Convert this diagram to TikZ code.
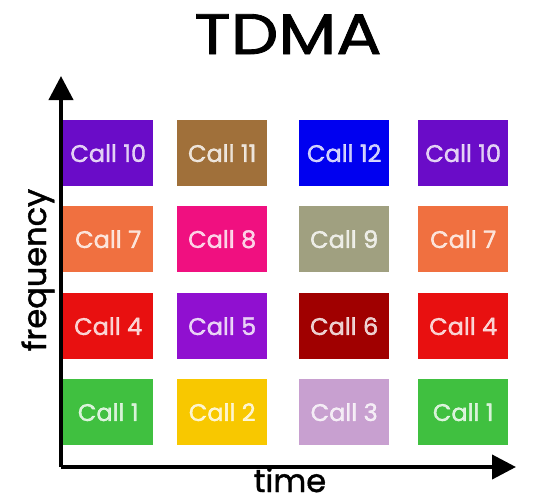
\documentclass[tikz,border=0pt]{standalone}
\usepackage{fontspec}
\setmainfont{Poppins}
\newfontfamily\mediumfont{Poppins}[FakeBold=1.4]
\usetikzlibrary{arrows.meta}
\definecolor{cTen}{RGB}{106,12,200}
\definecolor{cEleven}{RGB}{160,112,58}
\definecolor{cTwelve}{RGB}{0,0,240}
\definecolor{cSeven}{RGB}{240,112,64}
\definecolor{cEight}{RGB}{240,16,128}
\definecolor{cNine}{RGB}{160,160,128}
\definecolor{cFour}{RGB}{232,16,16}
\definecolor{cFive}{RGB}{144,16,208}
\definecolor{cSix}{RGB}{160,0,0}
\definecolor{cOne}{RGB}{64,192,64}
\definecolor{cTwo}{RGB}{248,200,0}
\definecolor{cThree}{RGB}{200,160,208}
\tikzset{
  slot/.style={fill=#1, minimum width=90pt, minimum height=66pt, inner sep=0pt,
    text=white, text opacity=0.8, font=\mediumfont\fontsize{24}{24}\selectfont, anchor=north west},
  axis/.style={line width=4pt, -{Triangle[length=24pt,width=24pt]}},
  axislabel/.style={font=\mediumfont\fontsize{32}{32}\selectfont, inner sep=0pt},
}
\begin{document}
\begin{tikzpicture}[x=1pt,y=-1pt]
  \useasboundingbox[fill=white] (0,0) rectangle (548,503);
  % title
  \node[anchor=base, inner sep=0pt] (title) at (288,54) {\mediumfont\fontsize{57}{57}\selectfont\scalebox{1.18}[1]{TDMA}};
  % axes
  \coordinate (origin) at (61,467);
  \coordinate (ftop) at (61,76);
  \coordinate (tend) at (516,467);
  \draw[axis] (origin) -- (ftop);
  \draw[axis] (origin) -- (tend);
  \node[axislabel, rotate=90, anchor=base] (freq) at (46,270) {frequency};
  \node[axislabel, anchor=base] (time) at (290,492) {time};
  % slots: row 1
  \node[slot=cTen]    (s10a) at (63,120)  {Call 10};
  \node[slot=cEleven] (s11)  at (177,120) {Call 11};
  \node[slot=cTwelve] (s12)  at (299,120) {Call 12};
  \node[slot=cTen]    (s10b) at (418,120) {Call 10};
  % row 2
  \node[slot=cSeven]  (s7a)  at (63,206)  {Call 7};
  \node[slot=cEight]  (s8)   at (177,206) {Call 8};
  \node[slot=cNine]   (s9)   at (299,206) {Call 9};
  \node[slot=cSeven]  (s7b)  at (418,206) {Call 7};
  % row 3
  \node[slot=cFour]   (s4a)  at (63,293)  {Call 4};
  \node[slot=cFive]   (s5)   at (177,293) {Call 5};
  \node[slot=cSix]    (s6)   at (299,293) {Call 6};
  \node[slot=cFour]   (s4b)  at (418,293) {Call 4};
  % row 4
  \node[slot=cOne]    (s1a)  at (63,379)  {Call 1};
  \node[slot=cTwo]    (s2)   at (177,379) {Call 2};
  \node[slot=cThree]  (s3)   at (299,379) {Call 3};
  \node[slot=cOne]    (s1b)  at (418,379) {Call 1};
\end{tikzpicture}
\end{document}
